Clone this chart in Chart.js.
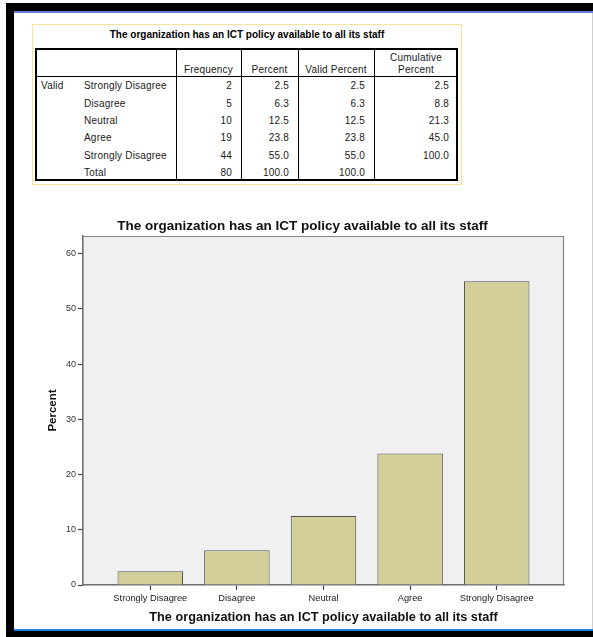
<!DOCTYPE html>
<html>
<head>
<meta charset="utf-8">
<script src="https://cdn.jsdelivr.net/npm/chart.js@4"></script>
<style>
html, body { margin: 0; padding: 0; background: #fff; }
#page { position: relative; width: 593px; height: 637px; overflow: hidden;
        font-family: "Liberation Sans", Arial, sans-serif; }
.abs { position: absolute; box-sizing: border-box; }
.cell { position: absolute; font-size: 10px; letter-spacing: 0.2px; color: #1a1a1a;
        white-space: nowrap; overflow: visible; }
</style>
</head>
<body>
<div id="page">
  <!-- viewer frame -->
  <div class="abs" style="left:6px;top:3px;width:587px;height:634px;background:#000"></div>
  <div class="abs" style="left:14px;top:11px;width:578px;height:620px;background:#fff"></div>
  <div class="abs" style="left:14px;top:11px;width:579px;height:2px;background:#6b7fd8"></div>
  <div class="abs" style="left:14px;top:629px;width:579px;height:2px;background:#1f80e0"></div>
  <div class="abs" style="left:592px;top:13px;width:1px;height:616px;background:#cfcfcf"></div>
  <div id="tbl"></div>
  <canvas id="chart" class="abs" width="578" height="427" style="left:14px;top:203px"></canvas>
</div>
<script>
// Frequency table of the survey item
const variableLabel = "The organization has an ICT policy available to all its staff";
const categories = ["Strongly Disagree", "Disagree", "Neutral", "Agree", "Strongly Disagree"];
const frequency = [2, 5, 10, 19, 44];
const percent = [2.5, 6.3, 12.5, 23.8, 55.0];
const validPercent = [2.5, 6.3, 12.5, 23.8, 55.0];
const cumulativePercent = [2.5, 8.8, 21.3, 45.0, 100.0];
const totalFrequency = 80;
const totalPercent = 100.0;
const totalValidPercent = 100.0;
const columnHeaders = [["Frequency"], ["Percent"], ["Valid Percent"], ["Cumulative", "Percent"]];
const percentTicks = [0, 10, 20, 30, 40, 50, 60];

// ---- pivot table ----
(function buildTable() {
  const host = document.getElementById('tbl');
  const colX = [35, 78, 176, 241, 298, 374, 458];
  const top = 48, headH = 28.7, rowH = 17.4;
  const bottom = top + headH + rowH * 6;
  let html = '';
  // outer yellow selection box and title
  html += `<div class="abs" style="left:32px;top:24px;width:430px;height:161px;border:1.5px solid #f6e29a"></div>`;
  html += `<div class="cell" style="left:32px;width:430px;top:28px;height:14px;line-height:14px;text-align:center;font-weight:bold;font-size:10px;letter-spacing:0;color:#000">${variableLabel}</div>`;
  // grid lines
  html += `<div class="abs" style="left:${colX[0]}px;top:${top}px;width:${colX[6]-colX[0]}px;height:${bottom-top}px;border:2px solid #000"></div>`;
  for (let c = 2; c <= 5; c++) {
    html += `<div class="abs" style="left:${colX[c]}px;top:${top}px;width:1px;height:${bottom-top}px;background:#000"></div>`;
  }
  html += `<div class="abs" style="left:${colX[0]}px;top:${top+headH-1}px;width:${colX[6]-colX[0]}px;height:1.3px;background:#000"></div>`;
  // header
  columnHeaders.forEach((lines, i) => {
    const l = colX[i + 2], w = colX[i + 3] - colX[i + 2];
    html += `<div class="cell" style="left:${l}px;width:${w}px;top:${top}px;height:${headH}px;display:flex;flex-direction:column;justify-content:flex-end;align-items:center;line-height:12.5px;box-sizing:border-box">${lines.map(s => `<div>${s}</div>`).join('')}</div>`;
  });
  // body rows
  const rows = categories.map((cat, i) => [i === 0 ? 'Valid' : '', cat, String(frequency[i]),
    percent[i].toFixed(1), validPercent[i].toFixed(1), cumulativePercent[i].toFixed(1)]);
  rows.push(['', 'Total', String(totalFrequency), totalPercent.toFixed(1), totalValidPercent.toFixed(1), '']);
  rows.forEach((r, ri) => {
    const y = top + headH + ri * rowH + 0.5;
    r.forEach((txt, c) => {
      const l = colX[c], w = colX[c + 1] - colX[c];
      const right = c >= 2;
      const style = right
        ? `left:${l}px;width:${w - 9}px;text-align:right;`
        : `left:${l + 6}px;width:${w - 6}px;text-align:left;`;
      html += `<div class="cell" style="${style}top:${y}px;height:${rowH}px;line-height:${rowH}px">${txt}</div>`;
    });
  });
  host.innerHTML = html;
})();

// ---- bar chart ----
const plotFrame = {
  id: 'plotFrame',
  beforeDraw(chart) {
    const { ctx, chartArea: a } = chart;
    ctx.save();
    ctx.fillStyle = '#f0f0f0';
    ctx.fillRect(a.left, a.top, a.right - a.left, a.bottom - a.top);
    ctx.restore();
  },
  afterDatasetsDraw(chart) {
    const { ctx, chartArea: a } = chart;
    ctx.save();
    ctx.strokeStyle = '#858585';
    ctx.lineWidth = 1.2;
    ctx.beginPath();
    ctx.moveTo(a.left, a.top + 0.5);
    ctx.lineTo(a.right - 0.5, a.top + 0.5);
    ctx.lineTo(a.right - 0.5, a.bottom);
    ctx.stroke();
    ctx.restore();
  }
};

const FONT = '"Liberation Sans", Arial, sans-serif';

new Chart(document.getElementById('chart'), {
  type: 'bar',
  data: {
    datasets: [{
      data: percent.map((v, i) => ({ x: i, y: v })),
      backgroundColor: '#d3cf98',
      borderColor: '#505050',
      borderWidth: 1,
      barPercentage: 0.756,
      categoryPercentage: 1.0
    }]
  },
  plugins: [plotFrame],
  options: {
    responsive: false,
    animation: false,
    devicePixelRatio: 1,
    layout: { padding: { left: 27, right: 28, top: 0, bottom: 0 } },
    plugins: {
      legend: { display: false },
      tooltip: { enabled: false },
      title: {
        display: true,
        text: variableLabel,
        color: '#111',
        font: { family: FONT, size: 13.5, weight: 'bold', lineHeight: 1.2 },
        padding: { top: 15.5, bottom: 1.3 }
      }
    },
    scales: {
      x: {
        type: 'linear',
        offset: false,
        min: -0.777,
        max: 4.777,
        afterBuildTicks: s => { s.ticks = categories.map((_, i) => ({ value: i })); },
        afterFit: s => { s.height = 45; },
        grid: { offset: false, drawOnChartArea: false, drawTicks: true, tickLength: 5, tickColor: '#444', tickWidth: 1.2 },
        border: { display: true, color: '#6e6e6e', width: 1.6 },
        ticks: {
          autoSkip: false, maxRotation: 0, padding: 3,
          color: '#222',
          font: { family: FONT, size: 9.3 },
          callback: v => categories[v]
        },
        title: {
          display: true,
          text: variableLabel,
          color: '#111',
          font: { family: FONT, size: 12.7, weight: 'bold', lineHeight: 1.2 },
          padding: { top: 0, bottom: 4.5 }
        }
      },
      y: {
        min: 0,
        max: 63.2,
        afterBuildTicks: s => { s.ticks = percentTicks.map(v => ({ value: v })); },
        afterFit: s => { s.width = 42; },
        grid: { drawOnChartArea: false, drawTicks: true, tickLength: 5, tickColor: '#444', tickWidth: 1.2 },
        border: { display: true, color: '#6e6e6e', width: 1.6 },
        ticks: { padding: 2, color: '#333', font: { family: FONT, size: 9 } },
        title: {
          display: true,
          text: 'Percent',
          color: '#111',
          font: { family: FONT, size: 11.5, weight: 'bold', lineHeight: 1.2 },
          padding: { top: 4.5, bottom: 0 }
        }
      }
    }
  }
});
</script>
</body>
</html>
